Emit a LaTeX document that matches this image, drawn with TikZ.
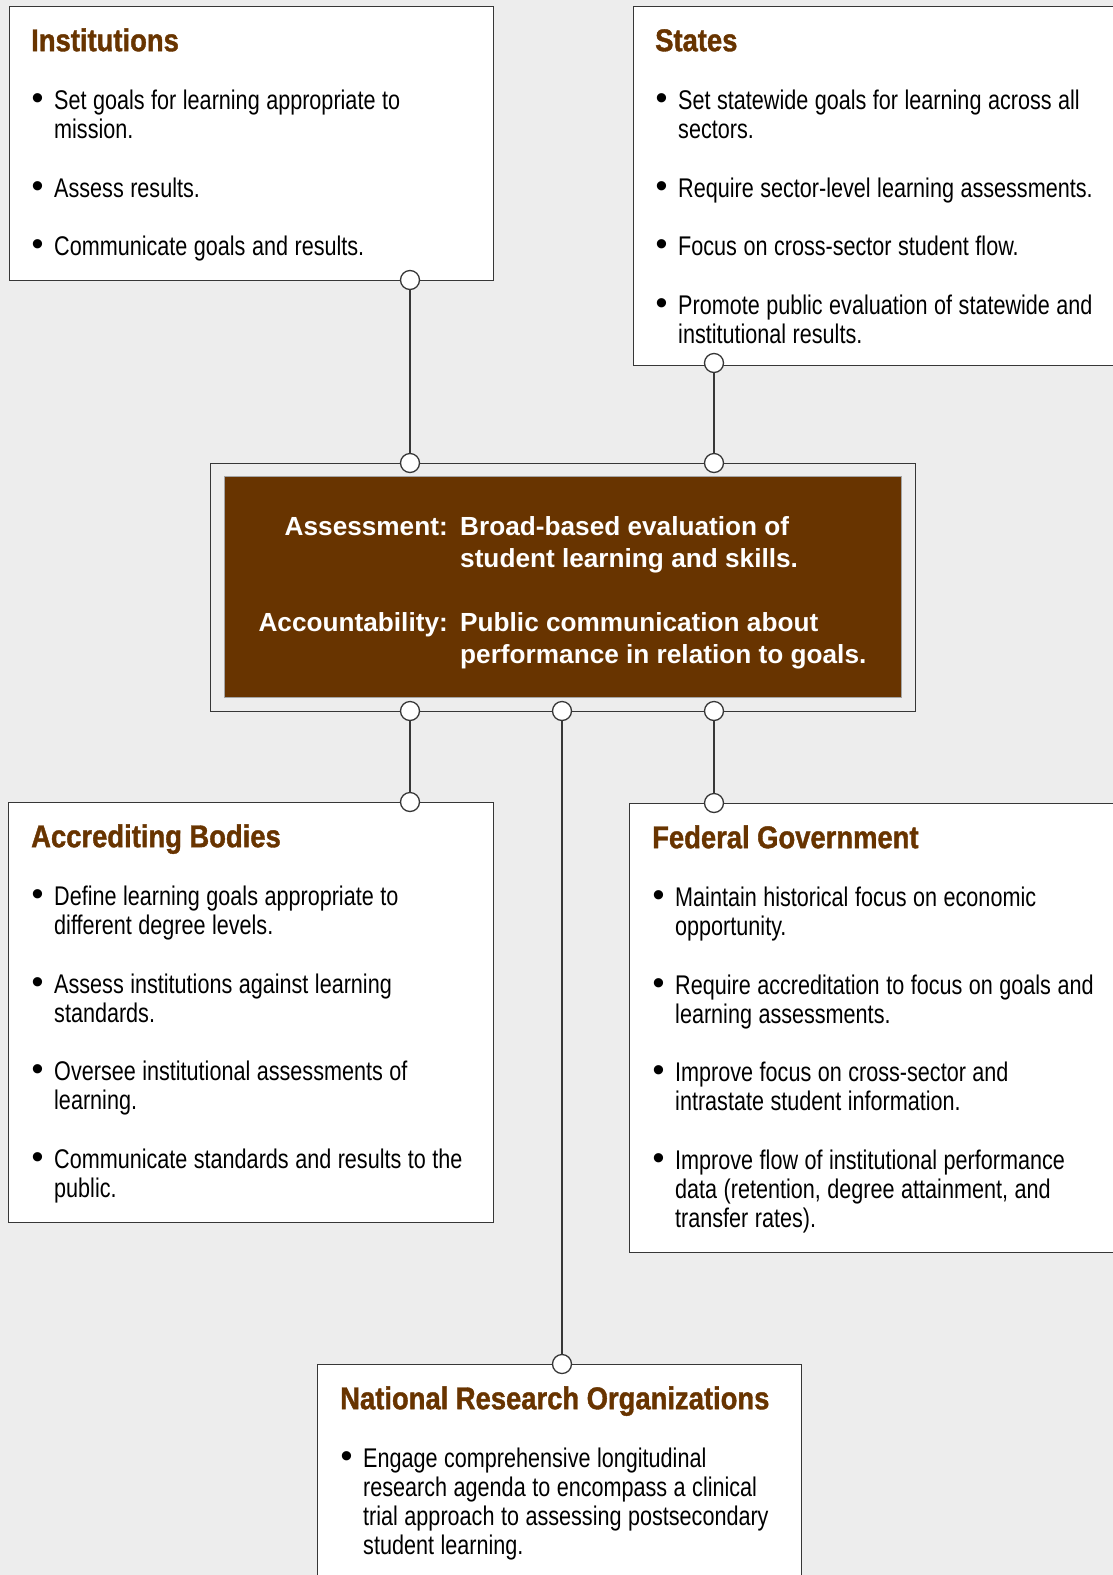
\documentclass[tikz,border=0pt]{standalone}
\usepackage{fontspec}
\setmainfont{Liberation Sans}[FakeStretch=0.80]
\newfontfamily\headfont{Liberation Sans}[FakeStretch=0.87, FakeBold=1.2]
\newfontfamily\plainsans{Liberation Sans}

\definecolor{bggray}{RGB}{237,237,237}
\definecolor{umbra}{RGB}{104,52,0}
\definecolor{edgegray}{RGB}{55,55,55}
\definecolor{rimgray}{RGB}{165,165,165}

\newcommand{\bodysize}{\fontsize{27}{29}\selectfont}
\newcommand{\dotmark}{{\plainsans\fontsize{34}{29}\selectfont\textbullet}}
\newcommand{\boxhead}[1]{{\noindent\headfont\bfseries\fontsize{31.5}{36}\selectfont\spaceskip=7.5pt\relax
  \color{umbra}\rule{0pt}{24pt}#1\par}}
\newcommand{\bitem}[1]{\par\vspace{29.5pt}\spaceskip=6.5pt plus 2pt minus 1pt\relax
  \hangindent=23pt\hangafter=1\noindent\makebox[23pt][l]{\hspace{0.5pt}\dotmark}#1\par}

\begin{document}
\begin{tikzpicture}[x=1pt, y=-1pt,
    panel/.style={draw=edgegray, fill=white, line width=1.4pt, anchor=north west, inner sep=0pt},
    txt/.style={anchor=north west, inner sep=0pt, text width=470pt, align=flush left, font=\bodysize},
    joint/.style={circle, draw=edgegray, fill=white, line width=1.3pt, minimum size=19pt, inner sep=0pt},
    link/.style={draw=edgegray, line width=1.3pt},
    deftxt/.style={inner sep=0pt, text=white, font=\plainsans\bfseries\fontsize{26.2}{32}\selectfont}]
  \useasboundingbox (0,0) rectangle (1113,1575);
  \fill[bggray] (0,0) rectangle (1113,1575);
  \clip (0,0) rectangle (1113,1575);

  % outer boxes
  \node[panel, minimum width=484, minimum height=274] (inst) at (9,6) {};
  \node[panel, minimum width=500, minimum height=359] (states) at (633,6) {};
  \node[panel, minimum width=485, minimum height=420] (accr) at (8,802) {};
  \node[panel, minimum width=500, minimum height=449] (fed) at (629,803) {};
  \node[panel, minimum width=484, minimum height=260] (nro) at (317,1364) {};

  % central definitions
  \node[draw=edgegray, line width=1.4pt, anchor=north west, inner sep=0pt,
        minimum width=705, minimum height=248] (core) at (210,463) {};
  \node[draw=rimgray, fill=umbra, line width=1.4pt, anchor=north west, inner sep=0pt,
        minimum width=677, minimum height=221] (coreinner) at (224,476) {};
  \node[deftxt, anchor=base east] (deflab) at (448,535)
    {\begin{tabular}[t]{@{}r@{}}Assessment:\\ \\[32pt]Accountability:\end{tabular}};
  \node[deftxt, anchor=base west] (defbody) at (460,535)
    {\begin{tabular}[t]{@{}l@{}}Broad-based evaluation of\\student learning and skills.\\[32pt]%
     Public communication about\\performance in relation to goals.\end{tabular}};

  % box texts
  \node[txt] (insttxt) at (31,27) {\boxhead{Institutions}
    \bitem{Set goals for learning appropriate to\newline mission.}
    \bitem{Assess results.}
    \bitem{Communicate goals and results.}};
  \node[txt] (statestxt) at (655,27) {\boxhead{States}
    \bitem{Set statewide goals for learning across all\newline sectors.}
    \bitem{Require sector-level learning assessments.}
    \bitem{Focus on cross-sector student flow.}
    \bitem{Promote public evaluation of statewide and\newline institutional results.}};
  \node[txt] (accrtxt) at (31,823) {\boxhead{Accrediting Bodies}
    \bitem{Define learning goals appropriate to\newline different degree levels.}
    \bitem{Assess institutions against learning\newline standards.}
    \bitem{Oversee institutional assessments of\newline learning.}
    \bitem{Communicate standards and results to the\newline public.}};
  \node[txt] (fedtxt) at (652,824) {\boxhead{Federal Government}
    \bitem{Maintain historical focus on economic\newline opportunity.}
    \bitem{Require accreditation to focus on goals and\newline learning assessments.}
    \bitem{Improve focus on cross-sector and\newline intrastate student information.}
    \bitem{Improve flow of institutional performance\newline data (retention, degree attainment, and\newline transfer rates).}};
  \node[txt] (nrotxt) at (340,1385) {\boxhead{National Research Organizations}
    \bitem{Engage comprehensive longitudinal\newline research agenda to encompass a clinical\newline trial approach to assessing postsecondary\newline student learning.}};

  % joints
  \node[joint] (instj) at (410,280) {};
  \node[joint] (statesj) at (714,363) {};
  \node[joint] (coretl) at (410,463) {};
  \node[joint] (coretr) at (714,463) {};
  \node[joint] (corebl) at (410,711) {};
  \node[joint] (corebm) at (562,711) {};
  \node[joint] (corebr) at (714,711) {};
  \node[joint] (accrj) at (410,802) {};
  \node[joint] (fedj) at (714,803) {};
  \node[joint] (nroj) at (562,1364) {};

  % links
  \draw[link] (instj) -- (coretl);
  \draw[link] (statesj) -- (coretr);
  \draw[link] (corebl) -- (accrj);
  \draw[link] (corebr) -- (fedj);
  \draw[link] (corebm) -- (nroj);
\end{tikzpicture}
\end{document}
